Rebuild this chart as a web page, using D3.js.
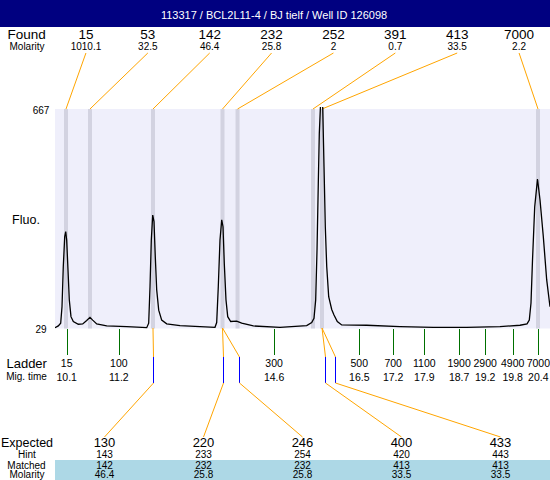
<!DOCTYPE html>
<html><head><meta charset="utf-8">
<script src="https://cdn.jsdelivr.net/npm/d3@7"></script>
<style>
html,body{margin:0;padding:0;background:#fff;}
svg{display:block;font-family:"Liberation Sans",Arial,sans-serif;}
</style></head>
<body><svg id="c" width="550" height="480"></svg>
<script>
const title = "113317 / BCL2L11-4 / BJ tielf / Well ID 126098";
const yTicks = [29, 667];
// Found peaks
const foundSizes = [15, 53, 142, 232, 252, 391, 413, 7000];
const foundMolarity = ["1010.1", "32.5", "46.4", "25.8", "2", "0.7", "33.5", "2.2"];
const foundTimes = [10.085, 10.609, 11.985, 13.503, 13.831, 15.479, 15.676, 20.393];
// Ladder
const ladderSizes = [15, 100, 300, 500, 700, 1100, 1900, 2900, 4900, 7000];
const ladderTimes = [10.10, 11.24, 14.63, 16.49, 17.23, 17.91, 18.67, 19.24, 19.84, 20.40];
// Expected table
const expectedSizes = [130, 220, 246, 400, 433];
const hintSizes = [143, 233, 254, 420, 443];
const hintTimes = [11.992, 13.521, 13.870, 15.748, 15.966];
const matchedSizes = [142, 232, 232, 413, 413];
const matchedMolarity = ["46.4", "25.8", "25.8", "33.5", "33.5"];
// Electropherogram trace (migration time, fluorescence)
const traceTimes = [9.845,9.917,9.969,9.998,10.026,10.057,10.079,10.100,10.129,10.157,10.194,10.245,10.354,10.450,10.537,10.609,10.668,10.756,10.974,11.411,11.848,11.891,11.920,11.948,11.979,12.007,12.035,12.066,12.110,12.175,12.284,12.575,13.012,13.339,13.376,13.411,13.448,13.486,13.514,13.542,13.579,13.617,13.682,13.813,13.922,14.176,14.759,15.342,15.451,15.501,15.538,15.567,15.595,15.617,15.648,15.669,15.691,15.720,15.748,15.779,15.822,15.888,15.938,16.010,16.106,16.652,17.379,18.107,18.836,19.563,20.000,20.153,20.203,20.240,20.273,20.321,20.382,20.437,20.509,20.583,20.655];
const traceValues = [30,35,43,91,208,295,310,285,198,111,62,48,40,41,51,60,52,41,35,33,30,43,149,285,358,339,237,140,81,52,41,36,33,31,45,149,285,344,324,217,111,62,48,49,43,35,31,36,45,57,111,256,450,596,693,730,674,499,324,208,120,83,67,48,38,37,33,31,31,33,37,41,52,102,227,382,463,402,295,169,91];

const W = 550, H = 480;
const L = 55, R = 550, T = 109, B = 328;
const svg = d3.select("#c");

const x = d3.scaleLinear().domain([9.845, 20.655]).range([L, R]);
const y = d3.scaleLinear().domain([yTicks[0], yTicks[1]]).range([B, T]);
const foundPos = d3.scaleBand().domain(d3.range(foundSizes.length)).range([L, R]);
const expPos = d3.scaleBand().domain(d3.range(expectedSizes.length)).range([L, R]);
const fx = i => foundPos(i) + foundPos.bandwidth() / 2;
const ex = i => expPos(i) + expPos.bandwidth() / 2;

// header
svg.append("rect").attr("x", 0).attr("y", 0).attr("width", W).attr("height", 27).attr("fill", "#000080");
svg.append("text").attr("x", 274).attr("y", 18.5).attr("text-anchor", "middle")
  .attr("fill", "#fff").attr("font-size", 11).text(title);

// row labels
const lab = (t, xx, yy, fs) => svg.append("text").attr("x", xx).attr("y", yy)
  .attr("text-anchor", "middle").attr("font-size", fs).attr("fill", "#000").text(t);
lab("Found", 26.7, 39, 13.5);
lab("Molarity", 27, 49.5, 10);
lab("Fluo.", 26, 224, 12.5);
lab("Ladder", 26.7, 368, 13);
lab("Mig. time", 26.5, 380, 10);
lab("Expected", 27, 447, 12.5);
lab("Hint", 27, 458, 10);
lab("Matched", 26.5, 468.5, 10);
lab("Molarity", 27, 478, 10);

// y tick labels
svg.selectAll("text.yt").data(yTicks).join("text").attr("class", "yt")
  .attr("x", 41).attr("y", d => y(d) + 4.5).attr("text-anchor", "middle")
  .attr("font-size", 10).text(d => d);

// plot background
svg.append("rect").attr("x", L).attr("y", T).attr("width", R - L).attr("height", B - T + 0.5)
  .attr("fill", "#efeffb");
// found bands
svg.selectAll("rect.band").data(foundTimes).join("rect").attr("class", "band")
  .attr("x", d => x(d) - 2).attr("y", T).attr("width", 4).attr("height", B - T + 0.5)
  .attr("fill", "#d3d3e1");

// found labels
svg.selectAll("text.fs").data(foundSizes).join("text").attr("class", "fs")
  .attr("x", (d, i) => fx(i)).attr("y", 39).attr("text-anchor", "middle")
  .attr("font-size", 13.5).text(d => d);
svg.selectAll("text.fm").data(foundMolarity).join("text").attr("class", "fm")
  .attr("x", (d, i) => fx(i)).attr("y", 49.5).attr("text-anchor", "middle")
  .attr("font-size", 10).text(d => d);
// top connectors
svg.selectAll("line.tc").data(foundTimes).join("line").attr("class", "tc")
  .attr("x1", (d, i) => fx(i)).attr("y1", 53).attr("x2", d => x(d)).attr("y2", T)
  .attr("stroke", "#ffa500").attr("stroke-width", 1);

// trace
svg.append("clipPath").attr("id", "clip").append("rect")
  .attr("x", L).attr("y", T - 2).attr("width", R - L).attr("height", B - T + 4);
const pts = traceTimes.map((t, i) => [t, traceValues[i]]);
svg.append("path").datum(pts).attr("clip-path", "url(#clip)")
  .attr("d", d3.line().x(d => x(d[0])).y(d => y(d[1])))
  .attr("fill", "none").attr("stroke", "#000").attr("stroke-width", 1.3);

// ladder ticks
svg.selectAll("line.lt").data(ladderTimes).join("line").attr("class", "lt")
  .attr("x1", d => Math.round(x(d)) + 0.5).attr("x2", d => Math.round(x(d)) + 0.5)
  .attr("y1", B + 1).attr("y2", 355).attr("stroke", "#007000").attr("stroke-width", 1);
svg.selectAll("text.ls").data(ladderSizes).join("text").attr("class", "ls")
  .attr("x", (d, i) => x(ladderTimes[i])).attr("y", 367).attr("text-anchor", "middle")
  .attr("font-size", 10.5).text(d => d);
svg.selectAll("text.lm").data(ladderTimes).join("text").attr("class", "lm")
  .attr("x", d => x(d)).attr("y", 381).attr("text-anchor", "middle")
  .attr("font-size", 10.5).text(d => d.toFixed(1));

// expected connectors
const matchedTime = i => foundTimes[foundSizes.indexOf(matchedSizes[i])];
expectedSizes.forEach((e, i) => {
  const xf = x(matchedTime(i)), xh = Math.round(x(hintTimes[i])) + 0.5;
  svg.append("line").attr("x1", xf).attr("y1", B).attr("x2", xh).attr("y2", 357)
    .attr("stroke", "#ffa500").attr("stroke-width", 1);
  svg.append("line").attr("x1", xh).attr("y1", 357).attr("x2", xh).attr("y2", 383)
    .attr("stroke", "#0000ff").attr("stroke-width", 1);
  svg.append("line").attr("x1", xh).attr("y1", 383).attr("x2", ex(i)).attr("y2", 437)
    .attr("stroke", "#ffa500").attr("stroke-width", 1);
});

// table
svg.append("rect").attr("x", L).attr("y", 460).attr("width", R - L).attr("height", 20).attr("fill", "#add8e6");
const row = (arr, yy, fs, cls) => svg.selectAll("text." + cls).data(arr).join("text").attr("class", cls)
  .attr("x", (d, i) => ex(i)).attr("y", yy).attr("text-anchor", "middle").attr("font-size", fs).text(d => d);
row(expectedSizes, 447, 13, "ee");
row(hintSizes, 458, 10, "eh");
row(matchedSizes, 468.5, 10, "em");
row(matchedMolarity, 478, 10, "emo");
</script></body></html>
